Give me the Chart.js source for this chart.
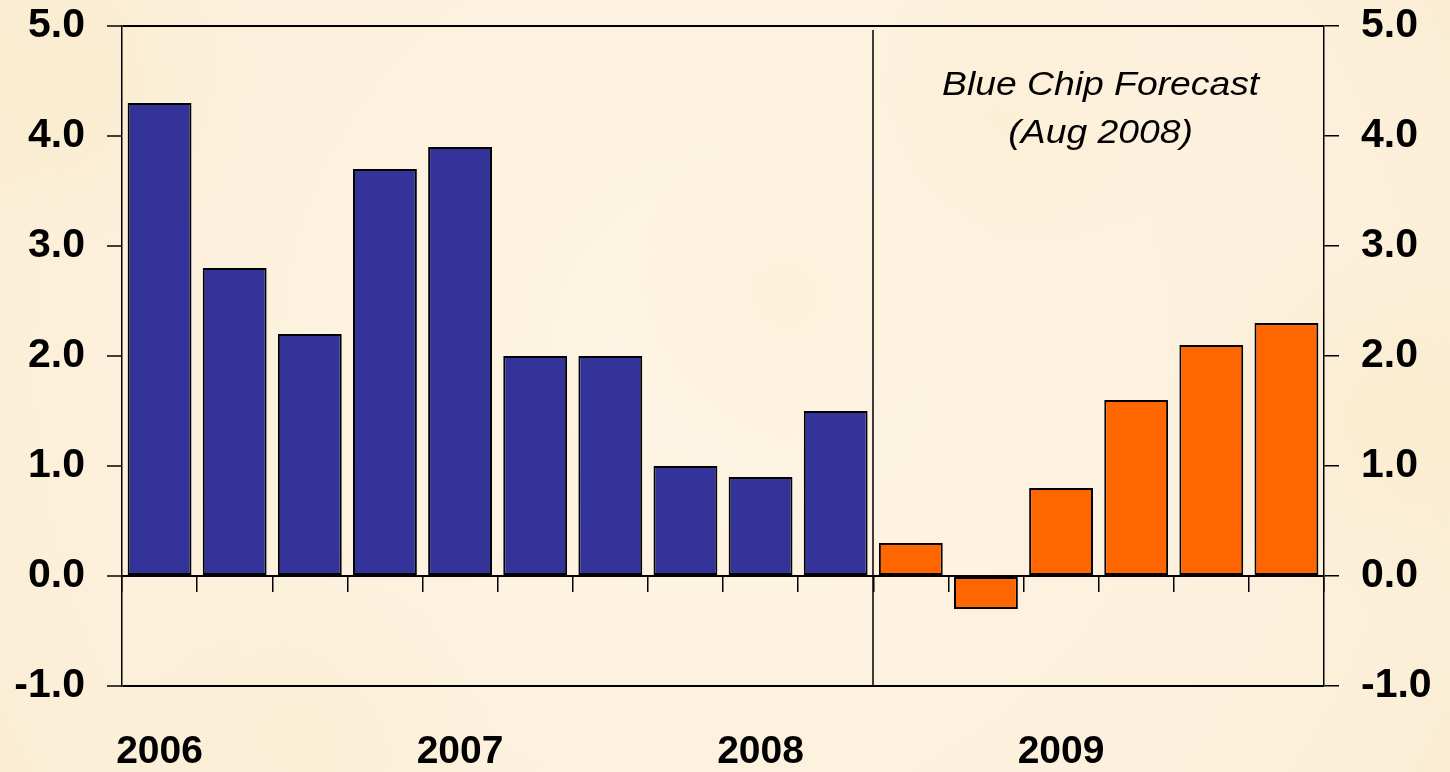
<!DOCTYPE html>
<html>
<head>
<meta charset="utf-8">
<title>Real GDP growth, Blue Chip Forecast</title>
<script src="https://cdn.jsdelivr.net/npm/chart.js@4/dist/chart.umd.min.js"></script>
<style>
  html, body { margin: 0; padding: 0; background: #fbf0d9; }
  #wrap { width: 1450px; height: 772px; }
  canvas { display: block; }
</style>
</head>
<body>
<div id="wrap"><canvas id="gdp" width="1450" height="772"></canvas></div>
<script>
// Quarters from 2006 Q1 to 2009 Q4
const quarters = [
  '2006 Q1', '2006 Q2', '2006 Q3', '2006 Q4',
  '2007 Q1', '2007 Q2', '2007 Q3', '2007 Q4',
  '2008 Q1', '2008 Q2', '2008 Q3', '2008 Q4',
  '2009 Q1', '2009 Q2', '2009 Q3', '2009 Q4'
];
// Year label shown under the first quarter of each year
const yearLabels = ['2006', '', '', '', '2007', '', '', '', '2008', '', '', '', '2009', '', '', ''];

// Actual growth, 2006 Q1 to 2008 Q2 (percent)
const actualGrowth = [4.3, 2.8, 2.2, 3.7, 3.9, 2.0, 2.0, 1.0, 0.9, 1.5];
// Blue Chip consensus forecast, 2008 Q3 to 2009 Q4 (percent)
const forecastGrowth = [0.3, -0.3, 0.8, 1.6, 2.1, 2.3];

const yMin = -1, yMax = 5, yStep = 1;
const forecastTitle = ['Blue Chip Forecast', '(Aug 2008)'];

const actualSeries = actualGrowth.concat(forecastGrowth.map(() => null));
const forecastSeries = actualGrowth.map(() => null).concat(forecastGrowth);

const BLACK = '#000000';
const tickFont = { family: 'Liberation Sans, Arial, sans-serif', size: 41, weight: 'bold' };

// Fixed-width value axes; label overhang is allowed into the margins
function fixValueAxis(width) {
  return (s) => {
    s.width = width;
    s.paddingTop = 0;
    s.paddingBottom = 0;
  };
}

// Parchment-style backdrop
const backdrop = {
  id: 'backdrop',
  beforeDraw(chart) {
    const { ctx, width, height } = chart;
    ctx.save();
    const g = ctx.createRadialGradient(width * 0.5, height * 0.45, 50, width * 0.5, height * 0.5, width * 0.75);
    g.addColorStop(0, '#fef4e3');
    g.addColorStop(0.6, '#fcf0db');
    g.addColorStop(1, '#f8e9c8');
    ctx.fillStyle = g;
    ctx.fillRect(0, 0, width, height);
    const blobs = [
      [80, 90, 180, 'rgba(247,232,194,0.45)'],
      [1390, 420, 200, 'rgba(248,233,194,0.45)'],
      [780, 300, 160, 'rgba(249,236,204,0.35)'],
      [1000, 120, 170, 'rgba(249,235,200,0.35)'],
      [300, 740, 200, 'rgba(248,234,200,0.35)']
    ];
    blobs.forEach(([x, y, r, c]) => {
      const b = ctx.createRadialGradient(x, y, 0, x, y, r);
      b.addColorStop(0, c);
      b.addColorStop(1, 'rgba(248,234,200,0)');
      ctx.fillStyle = b;
      ctx.fillRect(x - r, y - r, r * 2, r * 2);
    });
    ctx.restore();
  }
};

// Divider between actual and forecast quarters, plus the forecast caption
const forecastMarker = {
  id: 'forecastMarker',
  beforeDatasetsDraw(chart) {
    const { ctx, chartArea } = chart;
    const x = chart.scales.x;
    const split = actualGrowth.length;
    const px = Math.round((x.getPixelForValue(split - 1) + x.getPixelForValue(split)) / 2);
    ctx.save();
    ctx.strokeStyle = BLACK;
    ctx.lineWidth = 1.5;
    ctx.beginPath();
    ctx.moveTo(px, chartArea.top + 4);
    ctx.lineTo(px, chartArea.bottom);
    ctx.stroke();
    ctx.restore();
  },
  afterDatasetsDraw(chart) {
    const { ctx } = chart;
    const x = chart.scales.x;
    const y = chart.scales.y;
    const cx = (x.getPixelForValue(12) + x.getPixelForValue(13)) / 2 + 2;
    const baselines = [4.37, 3.94];
    ctx.save();
    ctx.fillStyle = BLACK;
    ctx.font = 'italic 33px "Liberation Sans", Arial, sans-serif';
    ctx.textAlign = 'center';
    ctx.textBaseline = 'alphabetic';
    forecastTitle.forEach((line, i) => {
      ctx.save();
      ctx.translate(cx, y.getPixelForValue(baselines[i]));
      ctx.scale(1.13, 1);
      ctx.fillText(line, 0, 0);
      ctx.restore();
    });
    ctx.restore();
  }
};

new Chart(document.getElementById('gdp'), {
  type: 'bar',
  data: {
    labels: quarters,
    datasets: [
      {
        label: 'Actual',
        data: actualSeries,
        backgroundColor: '#333399',
        borderColor: BLACK,
        borderWidth: 2,
        borderSkipped: false,
        grouped: false,
        barPercentage: 0.85,
        categoryPercentage: 1.0
      },
      {
        label: 'Blue Chip Forecast',
        data: forecastSeries,
        backgroundColor: '#ff6600',
        borderColor: BLACK,
        borderWidth: 2,
        borderSkipped: false,
        grouped: false,
        barPercentage: 0.85,
        categoryPercentage: 1.0
      }
    ]
  },
  options: {
    responsive: false,
    animation: false,
    layout: { padding: { top: 26, left: 0, right: 0, bottom: 0 } },
    plugins: {
      legend: { display: false },
      tooltip: { enabled: false },
      title: { display: false }
    },
    scales: {
      x: {
        type: 'category',
        position: 'bottom',
        offset: true,
        grid: { display: false, drawTicks: false },
        border: { display: false },
        ticks: {
          autoSkip: false,
          maxRotation: 0,
          minRotation: 0,
          padding: 43,
          color: BLACK,
          font: { family: 'Liberation Sans, Arial, sans-serif', size: 39, weight: 'bold' },
          callback: (value, index) => yearLabels[index]
        },
        afterFit: (s) => { s.height = 86; }
      },
      xZero: {
        type: 'category',
        axis: 'x',
        position: { y: 0 },
        offset: true,
        grid: {
          offset: true,
          drawOnChartArea: false,
          drawTicks: true,
          tickLength: 15,
          color: BLACK,
          lineWidth: 1.5
        },
        border: { display: true, color: BLACK, width: 2 },
        ticks: { display: false }
      },
      y: {
        position: 'left',
        min: yMin,
        max: yMax,
        ticks: {
          stepSize: yStep,
          padding: 22,
          color: BLACK,
          font: tickFont,
          callback: (v) => Number(v).toFixed(1)
        },
        grid: {
          drawTicks: true,
          tickLength: 15,
          tickColor: BLACK,
          tickWidth: 1.5,
          lineWidth: 2,
          color: (c) => (c.tick && (c.tick.value === yMin || c.tick.value === yMax)) ? BLACK : 'rgba(0,0,0,0)'
        },
        border: { display: true, color: BLACK, width: 1.5 },
        afterFit: fixValueAxis(122)
      },
      y2: {
        position: 'right',
        min: yMin,
        max: yMax,
        ticks: {
          stepSize: yStep,
          padding: 22,
          color: BLACK,
          font: tickFont,
          callback: (v) => Number(v).toFixed(1)
        },
        grid: {
          drawOnChartArea: false,
          drawTicks: true,
          tickLength: 15,
          color: BLACK,
          lineWidth: 1.5
        },
        border: { display: true, color: BLACK, width: 1.5 },
        afterFit: fixValueAxis(126)
      }
    }
  },
  plugins: [backdrop, forecastMarker]
});
</script>
</body>
</html>
